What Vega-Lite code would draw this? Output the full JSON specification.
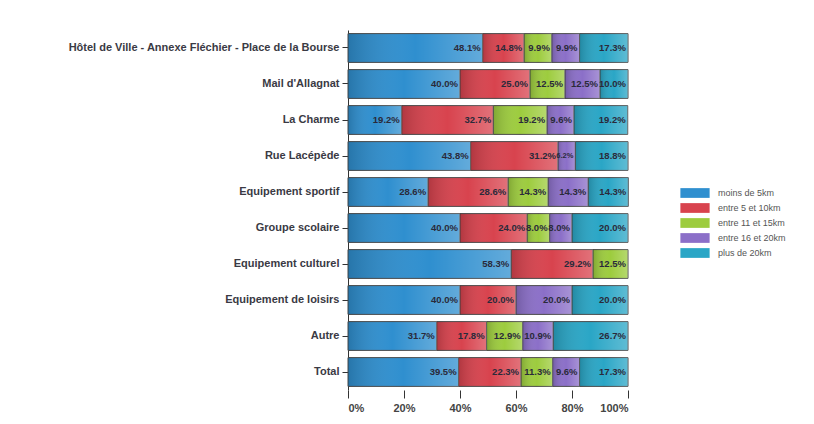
{
  "$schema": "https://vega.github.io/schema/vega-lite/v6.json",
  "autosize": "none",
  "width": 280,
  "height": 360,
  "padding": {"left": 348, "top": 30, "right": 186, "bottom": 34},
  "background": "white",
  "config": {"view": {"stroke": null}, "font": "Liberation Sans"},
  "data": {"values": [
    {"site": "Hôtel de Ville - Annexe Fléchier - Place de la Bourse", "dist": "moins de 5km", "k": 1, "p": 0.481},
    {"site": "Hôtel de Ville - Annexe Fléchier - Place de la Bourse", "dist": "entre 5 et 10km", "k": 2, "p": 0.148},
    {"site": "Hôtel de Ville - Annexe Fléchier - Place de la Bourse", "dist": "entre 11 et 15km", "k": 3, "p": 0.099},
    {"site": "Hôtel de Ville - Annexe Fléchier - Place de la Bourse", "dist": "entre 16 et 20km", "k": 4, "p": 0.099},
    {"site": "Hôtel de Ville - Annexe Fléchier - Place de la Bourse", "dist": "plus de 20km", "k": 5, "p": 0.173},
    {"site": "Mail d'Allagnat", "dist": "moins de 5km", "k": 1, "p": 0.400},
    {"site": "Mail d'Allagnat", "dist": "entre 5 et 10km", "k": 2, "p": 0.250},
    {"site": "Mail d'Allagnat", "dist": "entre 11 et 15km", "k": 3, "p": 0.125},
    {"site": "Mail d'Allagnat", "dist": "entre 16 et 20km", "k": 4, "p": 0.125},
    {"site": "Mail d'Allagnat", "dist": "plus de 20km", "k": 5, "p": 0.100},
    {"site": "La Charme", "dist": "moins de 5km", "k": 1, "p": 0.192},
    {"site": "La Charme", "dist": "entre 5 et 10km", "k": 2, "p": 0.327},
    {"site": "La Charme", "dist": "entre 11 et 15km", "k": 3, "p": 0.192},
    {"site": "La Charme", "dist": "entre 16 et 20km", "k": 4, "p": 0.096},
    {"site": "La Charme", "dist": "plus de 20km", "k": 5, "p": 0.192},
    {"site": "Rue Lacépède", "dist": "moins de 5km", "k": 1, "p": 0.438},
    {"site": "Rue Lacépède", "dist": "entre 5 et 10km", "k": 2, "p": 0.312},
    {"site": "Rue Lacépède", "dist": "entre 16 et 20km", "k": 4, "p": 0.062},
    {"site": "Rue Lacépède", "dist": "plus de 20km", "k": 5, "p": 0.188},
    {"site": "Equipement sportif", "dist": "moins de 5km", "k": 1, "p": 0.286},
    {"site": "Equipement sportif", "dist": "entre 5 et 10km", "k": 2, "p": 0.286},
    {"site": "Equipement sportif", "dist": "entre 11 et 15km", "k": 3, "p": 0.143},
    {"site": "Equipement sportif", "dist": "entre 16 et 20km", "k": 4, "p": 0.143},
    {"site": "Equipement sportif", "dist": "plus de 20km", "k": 5, "p": 0.143},
    {"site": "Groupe scolaire", "dist": "moins de 5km", "k": 1, "p": 0.400},
    {"site": "Groupe scolaire", "dist": "entre 5 et 10km", "k": 2, "p": 0.240},
    {"site": "Groupe scolaire", "dist": "entre 11 et 15km", "k": 3, "p": 0.080},
    {"site": "Groupe scolaire", "dist": "entre 16 et 20km", "k": 4, "p": 0.080},
    {"site": "Groupe scolaire", "dist": "plus de 20km", "k": 5, "p": 0.200},
    {"site": "Equipement culturel", "dist": "moins de 5km", "k": 1, "p": 0.583},
    {"site": "Equipement culturel", "dist": "entre 5 et 10km", "k": 2, "p": 0.292},
    {"site": "Equipement culturel", "dist": "entre 11 et 15km", "k": 3, "p": 0.125},
    {"site": "Equipement de loisirs", "dist": "moins de 5km", "k": 1, "p": 0.400},
    {"site": "Equipement de loisirs", "dist": "entre 5 et 10km", "k": 2, "p": 0.200},
    {"site": "Equipement de loisirs", "dist": "entre 16 et 20km", "k": 4, "p": 0.200},
    {"site": "Equipement de loisirs", "dist": "plus de 20km", "k": 5, "p": 0.200},
    {"site": "Autre", "dist": "moins de 5km", "k": 1, "p": 0.317},
    {"site": "Autre", "dist": "entre 5 et 10km", "k": 2, "p": 0.178},
    {"site": "Autre", "dist": "entre 11 et 15km", "k": 3, "p": 0.129},
    {"site": "Autre", "dist": "entre 16 et 20km", "k": 4, "p": 0.109},
    {"site": "Autre", "dist": "plus de 20km", "k": 5, "p": 0.267},
    {"site": "Total", "dist": "moins de 5km", "k": 1, "p": 0.395},
    {"site": "Total", "dist": "entre 5 et 10km", "k": 2, "p": 0.223},
    {"site": "Total", "dist": "entre 11 et 15km", "k": 3, "p": 0.113},
    {"site": "Total", "dist": "entre 16 et 20km", "k": 4, "p": 0.096},
    {"site": "Total", "dist": "plus de 20km", "k": 5, "p": 0.173}
  ]},
  "transform": [
    {"stack": "p", "groupby": ["site"], "sort": [{"field": "k"}], "as": ["p0", "p1"]}
  ],
  "encoding": {
    "y": {
      "field": "site", "type": "nominal", "title": null,
      "sort": ["Hôtel de Ville - Annexe Fléchier - Place de la Bourse", "Mail d'Allagnat", "La Charme", "Rue Lacépède", "Equipement sportif", "Groupe scolaire", "Equipement culturel", "Equipement de loisirs", "Autre", "Total"],
      "scale": {"paddingInner": 0.2, "paddingOuter": 0.1},
      "axis": {"labelFontSize": 11, "labelFontWeight": "bold", "labelColor": "#3a3a44", "labelLimit": 400, "domainColor": "#333", "tickColor": "#333", "tickSize": 6, "labelPadding": 3, "domainWidth": 1}
    }
  },
  "layer": [
    {
      "mark": {"type": "bar", "stroke": "#4a4a4a", "strokeWidth": 1},
      "encoding": {
        "x": {"field": "p0", "type": "quantitative", "scale": {"domain": [0, 1], "nice": false},
          "axis": {"values": [0, 0.2, 0.4, 0.6, 0.8, 1], "format": "%", "title": null, "grid": false, "domain": false, "tickColor": "#333", "tickSize": 8, "labelFontSize": 11, "labelFontWeight": "bold", "labelColor": "#444", "labelPadding": 4}},
        "x2": {"field": "p1"},
        "color": {"field": "dist", "type": "nominal",
          "scale": {"domain": ["moins de 5km", "entre 5 et 10km", "entre 11 et 15km", "entre 16 et 20km", "plus de 20km"],
                    "range": ["#2f8fcf", "#d8434e", "#9dcc3e", "#8b6fc8", "#2aa6c6"]},
          "legend": {"title": null, "orient": "none", "legendX": 337, "legendY": 153, "symbolType": "M-1.5,-0.5H1.5V0.5H-1.5Z", "symbolSize": 380, "symbolStrokeWidth": 0, "labelFontSize": 9, "labelColor": "#555", "rowPadding": 0, "labelOffset": 13}}
      }
    },
    {
      "mark": {"type": "bar", "stroke": null, "fill": {"gradient": "linear", "x1": 0, "x2": 1, "y1": 0, "y2": 0, "stops": [{"offset": 0, "color": "rgba(0,0,0,0.18)"}, {"offset": 0.5, "color": "rgba(255,255,255,0.0)"}, {"offset": 1, "color": "rgba(255,255,255,0.25)"}]}},
      "encoding": {
        "x": {"field": "p0", "type": "quantitative"},
        "x2": {"field": "p1"}
      }
    },
    {
      "mark": {"type": "text", "align": "right", "dx": -2, "fontWeight": "bold", "color": "#2a2a3a"},
      "encoding": {
        "x": {"field": "p1", "type": "quantitative"},
        "text": {"field": "p", "type": "quantitative", "format": ".1%"},
        "size": {"condition": {"test": "datum.p < 0.07", "value": 7.5}, "value": 9.5}
      }
    }
  ]
}
